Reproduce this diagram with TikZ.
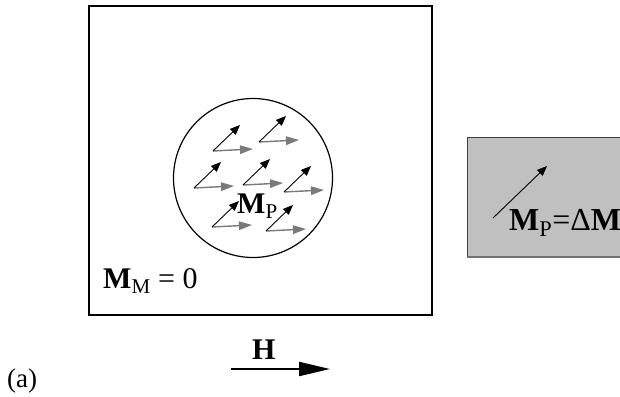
\documentclass[tikz,border=0pt]{standalone}
\usepackage{fontspec}
\setmainfont{Liberation Serif}
\usetikzlibrary{arrows.meta,shapes.geometric}
\definecolor{fieldgray}{HTML}{7A7A7A}
\definecolor{plategray}{HTML}{C0C0C0}

\begin{document}
\begin{tikzpicture}[x=1pt, y=-1pt,
  lbl/.style={anchor=base west, inner sep=0pt, font=\fontsize{30}{36}\selectfont},
  mom/.style={-{Triangle[length=10pt, width=8pt]}, line width=0.9pt},
  fld/.style={-{Triangle[length=13pt, width=8.5pt]}, line width=1.4pt, draw=fieldgray, fill=fieldgray}]
\useasboundingbox (0,0) rectangle (620,396);
% sample with the particle
\draw[line width=2.4pt] (89,6) rectangle (432,315);
\node[draw, line width=1.2pt, circle, minimum size=159pt,
      inner sep=0pt] (grain) at (253,178) {};
\foreach \p in {(213,151),(259,142),(194,188),(243,185),(284,192),(212,227),(266,231)} {
  \draw[fld] \p -- ++(40,-2);
  \draw[mom] \p -- ++(27,-26);
}
\node[lbl] (mp) at (237,213) {\textbf{M}\textsubscript{P}};
\node[lbl] (mm) at (103,288) {\textbf{M}\textsubscript{M} = 0};
% difference picture
\fill[plategray] (467,137) rectangle (640,257);
\draw[line width=0.7pt, black!75] (640,137) -- (467,137) -- (467,257);
\draw[line width=2pt, black!55] (467,257) -- (640,257);
\coordinate (dt) at (493,218);
\coordinate (dh) at (547,166);
\draw[mom] (dt) -- (dh);
\node[lbl, font=\fontsize{32}{38}\selectfont] (dm) at (509,230) {\textbf{M}\textsubscript{P}=Δ\textbf{M}};
% applied field
\node[lbl] (h) at (252,359) {\textbf{H}};
\coordinate (ht) at (231,369);
\coordinate (hh) at (330,369);
\draw[line width=2pt, -{Triangle[length=31pt, width=14pt]}] (ht) -- (hh);
\node[lbl, font=\fontsize{27}{32}\selectfont] (tag) at (7,387) {(a)};
\end{tikzpicture}
\end{document}
